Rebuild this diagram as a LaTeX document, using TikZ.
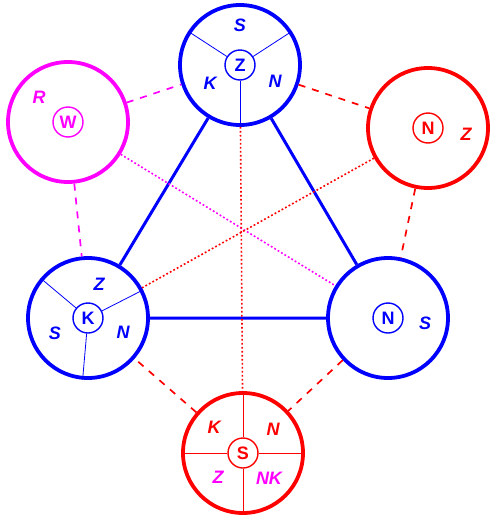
\documentclass[tikz,border=0pt]{standalone}
\usepackage{fontspec}
\setmainfont{Liberation Sans}
\usepackage{tikz}
\definecolor{bl}{RGB}{0,0,255}
\definecolor{rd}{RGB}{255,0,0}
\definecolor{mg}{RGB}{255,0,255}
\tikzset{
  ring/.style={circle, draw, line width=3.8pt, minimum size=120pt, inner sep=0pt},
  hub/.style={circle, draw, line width=1.4pt, minimum size=30pt, inner sep=0pt,
    font=\fontsize{18}{18}\selectfont\bfseries},
  lbl/.style={font=\fontsize{18}{18}\selectfont\bfseries\itshape},
  spoke/.style={line width=0.8pt},
  side/.style={line width=3pt},
  dsh/.style={line width=1.7pt, dash pattern=on 7pt off 7pt},
  dot/.style={line width=1.6pt, dash pattern=on 1.8pt off 2.2pt},
}
\newcommand{\spokes}[2]{\foreach \a in {#2} {\draw[spoke] (#1h.\a) -- (#1.\a);}}

\begin{document}
\begin{tikzpicture}[x=1pt,y=-1pt]
        \useasboundingbox (0,0) rectangle (495,517);
        % rings
        \node[ring, bl] (z) at (240,65) {};
        \node[ring, mg] (w) at (68,122) {};
        \node[ring, rd] (nr) at (428,128) {};
        \node[ring, bl] (k) at (88,318) {};
        \node[ring, bl] (nb) at (388,318) {};
        \node[ring, rd] (s) at (243,453) {};
        % hubs
        \node[hub, bl] (zh) at (z) {Z};
        \node[hub, mg] (wh) at (w) {W};
        \node[hub, rd] (nrh) at (nr) {N};
        \node[hub, bl] (kh) at (k) {K};
        \node[hub, bl] (nbh) at (nb) {N};
        \node[hub, rd] (sh) at (s) {S};
        % spokes
        \begin{scope}[bl]
          \spokes{z}{147,33,270}
          \spokes{k}{140,27,265}
        \end{scope}
        \begin{scope}[rd]
          \spokes{s}{0,90,180,270}
        \end{scope}
        % links
        \draw[side, bl] (z) -- (k) (z) -- (nb) (k) -- (nb);
        \draw[dsh, rd] (z) -- (nr) (nr) -- (nb) (nb) -- (s) (s) -- (k);
        \draw[dsh, mg] (w) -- (z) (w) -- (k);
        \draw[dot, mg] (w) -- (nb);
        \draw[dot, rd] (nr) -- (k) (z) -- (s);
        % labels
        \node[lbl, bl] (zs) at (240,25) {S};
        \node[lbl, bl] (zk) at (210,83) {K};
        \node[lbl, bl] (zn) at (275,81) {N};
        \node[lbl, mg] (wr) at (39,97) {R};
        \node[lbl, rd] (nrz) at (466,134) {Z};
        \node[lbl, bl] (kz) at (99,284) {Z};
        \node[lbl, bl] (ks) at (55,333) {S};
        \node[lbl, bl] (kn) at (123,332) {N};
        \node[lbl, bl] (nbs) at (425,323) {S};
        \node[lbl, rd] (sk) at (214,427) {K};
        \node[lbl, rd] (sn) at (273,429) {N};
        \node[lbl, mg] (sz) at (218,477) {Z};
        \node[lbl, mg] (snk) at (269,478) {NK};
    \end{tikzpicture}
\end{document}
